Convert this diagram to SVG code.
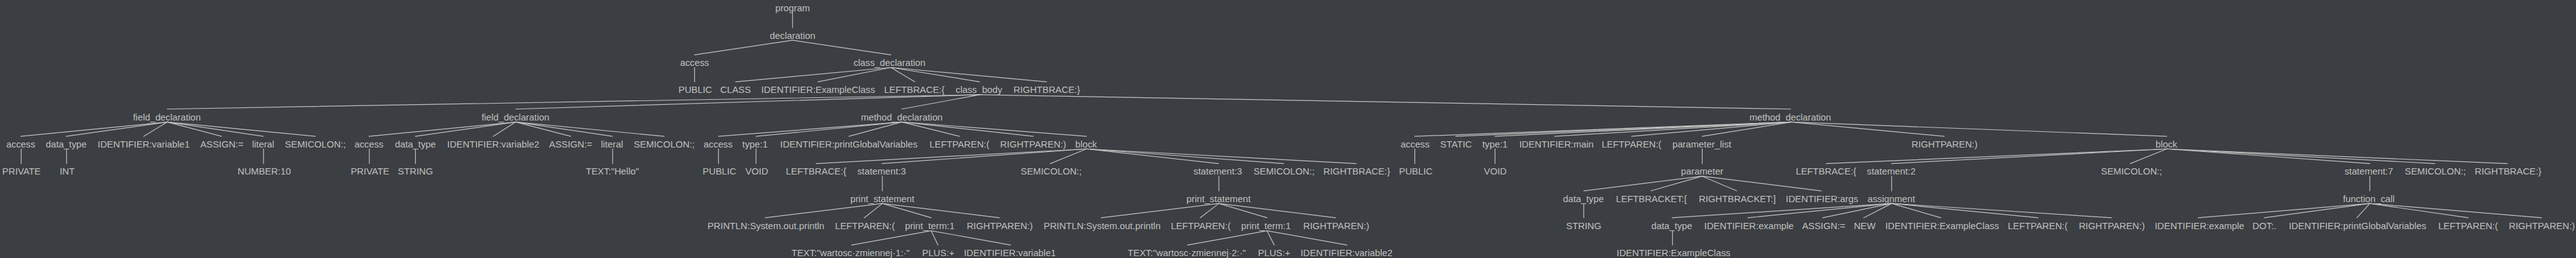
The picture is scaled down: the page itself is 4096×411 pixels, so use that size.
<svg xmlns="http://www.w3.org/2000/svg" width="4096" height="411" viewBox="0 0 4096 411">
<style>
text{font-family:"Liberation Sans",Arial,sans-serif;font-size:27.3px;fill:#c0c0c0;text-anchor:middle}
#edges line{stroke:#c4c4c4;stroke-width:2.2;stroke-linecap:round}
</style>
<rect width="4096" height="411" fill="#3b3e42"/>
<g transform="scale(0.54273,0.54293)">
<g id="edges">
<line x1="2322" y1="38" x2="2322" y2="81"/>
<line x1="2322" y1="118" x2="2035" y2="161"/>
<line x1="2322" y1="118" x2="2610" y2="161"/>
<line x1="2035" y1="198" x2="2035" y2="240"/>
<line x1="2610" y1="198" x2="2155" y2="240"/>
<line x1="2610" y1="198" x2="2396" y2="240"/>
<line x1="2610" y1="198" x2="2680" y2="240"/>
<line x1="2610" y1="198" x2="2870" y2="240"/>
<line x1="2610" y1="198" x2="3066" y2="240"/>
<line x1="2870" y1="278" x2="490" y2="320"/>
<line x1="2870" y1="278" x2="1511" y2="320"/>
<line x1="2870" y1="278" x2="2642" y2="320"/>
<line x1="2870" y1="278" x2="5246" y2="320"/>
<line x1="490" y1="358" x2="61" y2="400"/>
<line x1="490" y1="358" x2="194" y2="400"/>
<line x1="490" y1="358" x2="421" y2="400"/>
<line x1="490" y1="358" x2="649" y2="400"/>
<line x1="490" y1="358" x2="771" y2="400"/>
<line x1="490" y1="358" x2="924" y2="400"/>
<line x1="62" y1="437" x2="62" y2="480"/>
<line x1="195" y1="437" x2="195" y2="480"/>
<line x1="772" y1="437" x2="772" y2="480"/>
<line x1="1511" y1="358" x2="1081" y2="400"/>
<line x1="1511" y1="358" x2="1217" y2="400"/>
<line x1="1511" y1="358" x2="1445" y2="400"/>
<line x1="1511" y1="358" x2="1672" y2="400"/>
<line x1="1511" y1="358" x2="1794" y2="400"/>
<line x1="1511" y1="358" x2="1946" y2="400"/>
<line x1="1082" y1="437" x2="1082" y2="480"/>
<line x1="1217" y1="437" x2="1217" y2="480"/>
<line x1="1795" y1="437" x2="1795" y2="480"/>
<line x1="2642" y1="358" x2="2105" y2="400"/>
<line x1="2642" y1="358" x2="2215" y2="400"/>
<line x1="2642" y1="358" x2="2487" y2="400"/>
<line x1="2642" y1="358" x2="2811" y2="400"/>
<line x1="2642" y1="358" x2="3027" y2="400"/>
<line x1="2642" y1="358" x2="3183" y2="400"/>
<line x1="2105" y1="437" x2="2105" y2="480"/>
<line x1="2215" y1="437" x2="2215" y2="480"/>
<line x1="3183" y1="437" x2="2391" y2="480"/>
<line x1="3183" y1="437" x2="2584" y2="480"/>
<line x1="3183" y1="437" x2="3077" y2="480"/>
<line x1="3183" y1="437" x2="3570" y2="480"/>
<line x1="3183" y1="437" x2="3761" y2="480"/>
<line x1="3183" y1="437" x2="3973" y2="480"/>
<line x1="2585" y1="517" x2="2585" y2="560"/>
<line x1="2585" y1="597" x2="2242" y2="639"/>
<line x1="2585" y1="597" x2="2532" y2="639"/>
<line x1="2585" y1="597" x2="2728" y2="639"/>
<line x1="2585" y1="597" x2="2928" y2="639"/>
<line x1="2728" y1="677" x2="2495" y2="719"/>
<line x1="2728" y1="677" x2="2748" y2="719"/>
<line x1="2728" y1="677" x2="2961" y2="719"/>
<line x1="3571" y1="517" x2="3571" y2="560"/>
<line x1="3571" y1="597" x2="3226" y2="639"/>
<line x1="3571" y1="597" x2="3516" y2="639"/>
<line x1="3571" y1="597" x2="3712" y2="639"/>
<line x1="3571" y1="597" x2="3913" y2="639"/>
<line x1="3712" y1="677" x2="3479" y2="719"/>
<line x1="3712" y1="677" x2="3733" y2="719"/>
<line x1="3712" y1="677" x2="3946" y2="719"/>
<line x1="5248" y1="358" x2="4145" y2="400"/>
<line x1="5248" y1="358" x2="4265" y2="400"/>
<line x1="5248" y1="358" x2="4380" y2="400"/>
<line x1="5248" y1="358" x2="4555" y2="400"/>
<line x1="5248" y1="358" x2="4780" y2="400"/>
<line x1="5248" y1="358" x2="4987" y2="400"/>
<line x1="5248" y1="358" x2="5696" y2="400"/>
<line x1="5248" y1="358" x2="6348" y2="400"/>
<line x1="4145" y1="437" x2="4145" y2="480"/>
<line x1="4380" y1="437" x2="4380" y2="480"/>
<line x1="4987" y1="437" x2="4987" y2="480"/>
<line x1="4987" y1="517" x2="4640" y2="560"/>
<line x1="4987" y1="517" x2="4837" y2="560"/>
<line x1="4987" y1="517" x2="5088" y2="560"/>
<line x1="4987" y1="517" x2="5336" y2="560"/>
<line x1="4640" y1="597" x2="4640" y2="639"/>
<line x1="6348" y1="437" x2="5350" y2="480"/>
<line x1="6348" y1="437" x2="5542" y2="480"/>
<line x1="6348" y1="437" x2="6241" y2="480"/>
<line x1="6348" y1="437" x2="6943" y2="480"/>
<line x1="6348" y1="437" x2="7133" y2="480"/>
<line x1="6348" y1="437" x2="7346" y2="480"/>
<line x1="5542" y1="517" x2="5542" y2="560"/>
<line x1="5542" y1="597" x2="4899" y2="639"/>
<line x1="5542" y1="597" x2="5121" y2="639"/>
<line x1="5542" y1="597" x2="5340" y2="639"/>
<line x1="5542" y1="597" x2="5460" y2="639"/>
<line x1="5542" y1="597" x2="5686" y2="639"/>
<line x1="5542" y1="597" x2="5971" y2="639"/>
<line x1="5542" y1="597" x2="6186" y2="639"/>
<line x1="4900" y1="677" x2="4900" y2="719"/>
<line x1="6943" y1="517" x2="6943" y2="560"/>
<line x1="6943" y1="597" x2="6440" y2="639"/>
<line x1="6943" y1="597" x2="6634" y2="639"/>
<line x1="6943" y1="597" x2="6905" y2="639"/>
<line x1="6943" y1="597" x2="7231" y2="639"/>
<line x1="6943" y1="597" x2="7446" y2="639"/>
</g>
<g id="n0"><text x="2322" y="34">program</text></g>
<g id="n1"><text x="2322" y="113.8">declaration</text></g>
<g id="n2"><text x="2035" y="193.6">access</text></g>
<g id="n3"><text x="2037" y="273.4">PUBLIC</text></g>
<g id="n4"><text x="2606" y="193.6">class_declaration</text></g>
<g id="n5"><text x="2155" y="273.4">CLASS</text></g>
<g id="n6"><text x="2397" y="273.4">IDENTIFIER:ExampleClass</text></g>
<g id="n7"><text x="2679" y="273.4">LEFTBRACE:{</text></g>
<g id="n8"><text x="2868" y="273.4">class_body</text></g>
<g id="n9"><text x="3067" y="273.4">RIGHTBRACE:}</text></g>
<g id="n10"><text x="489" y="353.2">field_declaration</text></g>
<g id="n11"><text x="61" y="433">access</text></g>
<g id="n12"><text x="63" y="512.8">PRIVATE</text></g>
<g id="n13"><text x="194" y="433">data_type</text></g>
<g id="n14"><text x="197" y="512.8">INT</text></g>
<g id="n15"><text x="421" y="433">IDENTIFIER:variable1</text></g>
<g id="n16"><text x="650" y="433">ASSIGN:=</text></g>
<g id="n17"><text x="771" y="433">literal</text></g>
<g id="n18"><text x="774" y="512.8">NUMBER:10</text></g>
<g id="n19"><text x="924" y="433">SEMICOLON:;</text></g>
<g id="n20"><text x="1510" y="353.2">field_declaration</text></g>
<g id="n21"><text x="1081" y="433">access</text></g>
<g id="n22"><text x="1084" y="512.8">PRIVATE</text></g>
<g id="n23"><text x="1217" y="433">data_type</text></g>
<g id="n24"><text x="1217" y="512.8">STRING</text></g>
<g id="n25"><text x="1445" y="433">IDENTIFIER:variable2</text></g>
<g id="n26"><text x="1672" y="433">ASSIGN:=</text></g>
<g id="n27"><text x="1793" y="433">literal</text></g>
<g id="n28"><text x="1794" y="512.8">TEXT:"Hello"</text></g>
<g id="n29"><text x="1946" y="433">SEMICOLON:;</text></g>
<g id="n30"><text x="2642" y="353.2">method_declaration</text></g>
<g id="n31"><text x="2104" y="433">access</text></g>
<g id="n32"><text x="2108" y="512.8">PUBLIC</text></g>
<g id="n33"><text x="2212" y="433">type:1</text></g>
<g id="n34"><text x="2217" y="512.8">VOID</text></g>
<g id="n35"><text x="2487" y="433">IDENTIFIER:printGlobalVariables</text></g>
<g id="n36"><text x="2811" y="433">LEFTPAREN:(</text></g>
<g id="n37"><text x="3027" y="433">RIGHTPAREN:)</text></g>
<g id="n38"><text x="3182" y="433">block</text></g>
<g id="n39"><text x="2391" y="512.8">LEFTBRACE:{</text></g>
<g id="n40"><text x="2583" y="512.8">statement:3</text></g>
<g id="n41"><text x="2585" y="592.6">print_statement</text></g>
<g id="n42"><text x="2244" y="672.4">PRINTLN:System.out.println</text></g>
<g id="n43"><text x="2534" y="672.4">LEFTPAREN:(</text></g>
<g id="n44"><text x="2724" y="672.4">print_term:1</text></g>
<g id="n45"><text x="2492" y="752.2">TEXT:"wartosc·zmiennej·1:·"</text></g>
<g id="n46"><text x="2749" y="752.2">PLUS:+</text></g>
<g id="n47"><text x="2959" y="752.2">IDENTIFIER:variable1</text></g>
<g id="n48"><text x="2929" y="672.4">RIGHTPAREN:)</text></g>
<g id="n49"><text x="3080" y="512.8">SEMICOLON:;</text></g>
<g id="n50"><text x="3568" y="512.8">statement:3</text></g>
<g id="n51"><text x="3570" y="592.6">print_statement</text></g>
<g id="n52"><text x="3229" y="672.4">PRINTLN:System.out.println</text></g>
<g id="n53"><text x="3518" y="672.4">LEFTPAREN:(</text></g>
<g id="n54"><text x="3709" y="672.4">print_term:1</text></g>
<g id="n55"><text x="3477" y="752.2">TEXT:"wartosc·zmiennej·2:·"</text></g>
<g id="n56"><text x="3733" y="752.2">PLUS:+</text></g>
<g id="n57"><text x="3945" y="752.2">IDENTIFIER:variable2</text></g>
<g id="n58"><text x="3915" y="672.4">RIGHTPAREN:)</text></g>
<g id="n59"><text x="3762" y="512.8">SEMICOLON:;</text></g>
<g id="n60"><text x="3975" y="512.8">RIGHTBRACE:}</text></g>
<g id="n61"><text x="5245" y="353.2">method_declaration</text></g>
<g id="n62"><text x="4146" y="433">access</text></g>
<g id="n63"><text x="4148" y="512.8">PUBLIC</text></g>
<g id="n64"><text x="4266" y="433">STATIC</text></g>
<g id="n65"><text x="4380" y="433">type:1</text></g>
<g id="n66"><text x="4381" y="512.8">VOID</text></g>
<g id="n67"><text x="4560" y="433">IDENTIFIER:main</text></g>
<g id="n68"><text x="4780" y="433">LEFTPAREN:(</text></g>
<g id="n69"><text x="4986" y="433">parameter_list</text></g>
<g id="n70"><text x="4987" y="512.8">parameter</text></g>
<g id="n71"><text x="4639" y="592.6">data_type</text></g>
<g id="n72"><text x="4640" y="672.4">STRING</text></g>
<g id="n73"><text x="4838" y="592.6">LEFTBRACKET:[</text></g>
<g id="n74"><text x="5090" y="592.6">RIGHTBRACKET:]</text></g>
<g id="n75"><text x="5338" y="592.6">IDENTIFIER:args</text></g>
<g id="n76"><text x="5697" y="433">RIGHTPAREN:)</text></g>
<g id="n77"><text x="6347" y="433">block</text></g>
<g id="n78"><text x="5350" y="512.8">LEFTBRACE:{</text></g>
<g id="n79"><text x="5541" y="512.8">statement:2</text></g>
<g id="n80"><text x="5541" y="592.6">assignment</text></g>
<g id="n81"><text x="4898" y="672.4">data_type</text></g>
<g id="n82"><text x="4903" y="752.2">IDENTIFIER:ExampleClass</text></g>
<g id="n83"><text x="5124" y="672.4">IDENTIFIER:example</text></g>
<g id="n84"><text x="5343" y="672.4">ASSIGN:=</text></g>
<g id="n85"><text x="5463" y="672.4">NEW</text></g>
<g id="n86"><text x="5690" y="672.4">IDENTIFIER:ExampleClass</text></g>
<g id="n87"><text x="5970" y="672.4">LEFTPAREN:(</text></g>
<g id="n88"><text x="6187" y="672.4">RIGHTPAREN:)</text></g>
<g id="n89"><text x="6245" y="512.8">SEMICOLON:;</text></g>
<g id="n90"><text x="6940" y="512.8">statement:7</text></g>
<g id="n91"><text x="6940" y="592.6">function_call</text></g>
<g id="n92"><text x="6444" y="672.4">IDENTIFIER:example</text></g>
<g id="n93"><text x="6634" y="672.4">DOT:.</text></g>
<g id="n94"><text x="6907" y="672.4">IDENTIFIER:printGlobalVariables</text></g>
<g id="n95"><text x="7231" y="672.4">LEFTPAREN:(</text></g>
<g id="n96"><text x="7447" y="672.4">RIGHTPAREN:)</text></g>
<g id="n97"><text x="7135" y="512.8">SEMICOLON:;</text></g>
<g id="n98"><text x="7348" y="512.8">RIGHTBRACE:}</text></g>
</g>
</svg>
